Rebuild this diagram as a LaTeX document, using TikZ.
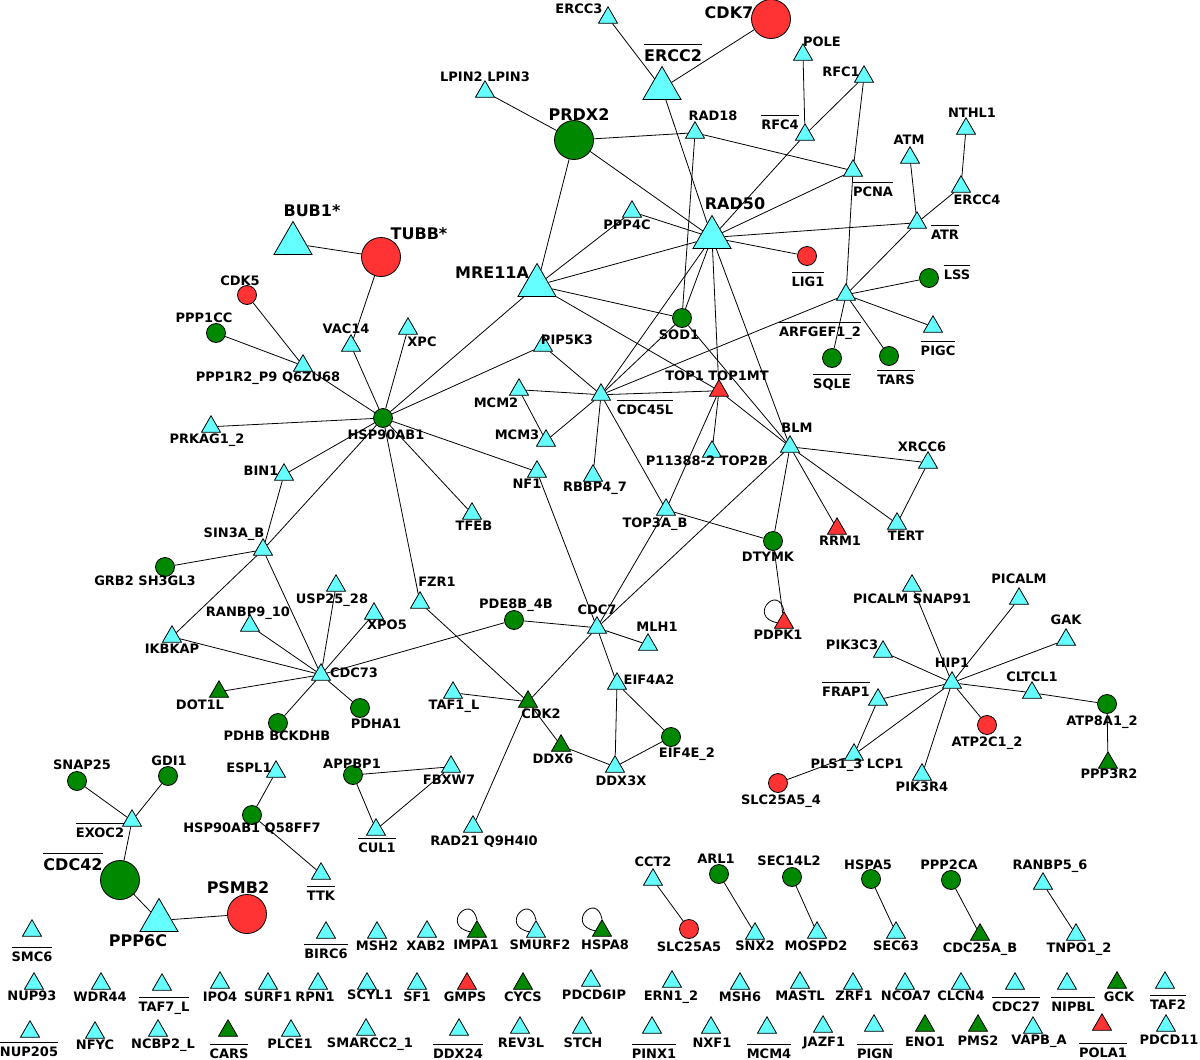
\documentclass[tikz,border=0pt]{standalone}
\usepackage{fontspec}
\setmainfont{DejaVu Sans}
\usetikzlibrary{shapes.geometric}
\definecolor{triCyan}{RGB}{102,255,255}
\definecolor{hitGreen}{RGB}{0,136,0}
\definecolor{hitRed}{RGB}{255,51,51}
% one gene: shape node plus its label
\newcommand{\addgene}[6][lbl]{\node[#2] (#3) at (#4) {};\node[#1] (#3L) at (#5) {#6};}
\newcommand{\olt}[1]{\vbox{\hrule height 0.9pt\kern 4pt\hbox{#1}}}
\newcommand{\bigolt}[1]{\vbox{\hrule height 0.9pt\kern 5pt\hbox{#1}}}

\begin{document}
\begin{tikzpicture}[
	x=1pt, y=-1pt,
	tri/.style={regular polygon, regular polygon sides=3, draw, line width=0.8pt, inner sep=0pt, minimum size=22pt, yshift=-2.75pt, fill=triCyan},
	bigtri/.style={regular polygon, regular polygon sides=3, draw, line width=0.8pt, inner sep=0pt, minimum size=44pt, yshift=-5.5pt, fill=triCyan},
	gtri/.style={tri, fill=hitGreen},
	rtri/.style={tri, fill=hitRed},
	dot/.style={circle, draw, line width=0.8pt, inner sep=0pt, minimum size=19pt, fill=hitGreen},
	rdot/.style={dot, fill=hitRed},
	bigdot/.style={dot, minimum size=39pt},
	bigrdot/.style={bigdot, fill=hitRed},
	lbl/.style={inner sep=0pt, font=\bfseries\fontsize{13}{15}\selectfont, text height=9.5pt, text depth=0pt},
	biglbl/.style={lbl, font=\bfseries\fontsize{16}{18}\selectfont, text height=11.7pt},
	link/.style={line width=0.8pt}
]
\useasboundingbox (0,0) rectangle (1200,1060);

% Repair cluster (top right)
\addgene{tri}{ercc3}{608,15}{579,9}{ERCC3}
\addgene[biglbl]{bigrdot}{cdk7}{771,19}{729,13}{CDK7}
\addgene[biglbl]{bigtri}{ercc2}{662,83}{673,56}{\bigolt{ERCC2}}
\addgene{tri}{lpin}{485,89}{485,77}{LPIN2 LPIN3}
\addgene[biglbl]{bigdot}{prdx2}{574,140}{579,115}{PRDX2}
\addgene{tri}{rad18}{695,130}{713,116}{RAD18}
\addgene{tri}{rfc4}{805,132}{780,125}{\olt{RFC4}}
\addgene{tri}{pole}{803,52}{822,42}{POLE}
\addgene{tri}{rfc1}{864,74}{841,72}{RFC1}
\addgene{tri}{pcna}{853,168}{873,192}{\olt{PCNA}}
\addgene{tri}{atm}{910,155}{909,140}{ATM}
\addgene{tri}{nthl1}{966,126}{972,113}{NTHL1}
\addgene{tri}{ercc4}{961,184}{977,200}{ERCC4}
\addgene{tri}{atr}{917,220}{945,235}{\olt{ATR}}
\addgene{rdot}{lig1}{807,256}{808,282}{\olt{LIG1}}
\addgene{dot}{lss}{929,278}{957,275}{\olt{LSS}}
\addgene{tri}{arfgef}{846,292}{820,332}{\olt{ARFGEF1\_2}}
\addgene{tri}{pigc}{933,324}{938,351}{\olt{PIGC}}
\addgene{dot}{sqle}{832,358}{832,384}{\olt{SQLE}}
\addgene{dot}{tars}{889,356}{896,380}{\olt{TARS}}
\addgene[biglbl]{bigtri}{rad50}{712,232}{735,204}{RAD50}
\addgene[biglbl]{bigtri}{mre11a}{537,280}{492,273}{MRE11A}
\addgene{tri}{ppp4c}{632,209}{627,225}{PPP4C}
\addgene{dot}{sod1}{682,318}{679,335}{SOD1}

% HSP90AB1 cluster (left)
\addgene{tri}{xpc}{408,326}{422,342}{XPC}
\addgene{tri}{pip5k3}{543,343}{567,340}{PIP5K3}
\addgene[biglbl]{bigrdot}{tubb}{381,257}{419,234}{TUBB*}
\addgene[biglbl]{bigtri}{bub1}{293,238}{312,211}{BUB1*}
\addgene{rdot}{cdk5}{247,295}{240,281}{CDK5}
\addgene{dot}{ppp1cc}{216,333}{204,318}{PPP1CC}
\addgene{tri}{vac14}{351,343}{346,329}{VAC14}
\addgene{tri}{ppp1r2}{303,363}{268,377}{PPP1R2\_P9 Q6ZU68}
\addgene{dot}{hsp90}{383,418}{386,435}{HSP90AB1}
\addgene{tri}{prkag}{211,424}{207,439}{PRKAG1\_2}
\addgene{tri}{bin1}{284,472}{261,471}{BIN1}
\addgene{tri}{sin3a}{263,547}{234,533}{SIN3A\_B}
\addgene{dot}{grb2}{165,567}{145,581}{GRB2 SH3GL3}
\addgene{tri}{ikbkap}{172,634}{172,649}{IKBKAP}
\addgene{tri}{ranbp9}{250,623}{248,612}{RANBP9\_10}
\addgene{tri}{usp25}{336,583}{332,599}{USP25\_28}
\addgene{tri}{xpo5}{374,611}{387,625}{XPO5}
\addgene{tri}{cdc73}{321,672}{354,673}{CDC73}
\addgene{gtri}{dot1l}{219,689}{200,705}{DOT1L}
\addgene{dot}{pdhb}{278,723}{277,736}{PDHB BCKDHB}
\addgene{dot}{pdha1}{360,708}{376,724}{PDHA1}
\addgene{tri}{fzr1}{420,600}{437,582}{FZR1}
\addgene{dot}{pde8b}{514,620}{516,604}{PDE8B\_4B}
\addgene{tri}{taf1l}{453,690}{454,705}{TAF1\_L}
\addgene{gtri}{cdk2}{528,699}{541,714}{CDK2}
\addgene{dot}{appbp1}{353,775}{352,764}{APPBP1}
\addgene{tri}{fbxw7}{451,764}{449,780}{FBXW7}
\addgene{tri}{espl1}{276,769}{249,768}{ESPL1}
\addgene{dot}{gdi1}{168,776}{169,761}{GDI1}

% CDC45L / BLM cluster (middle)
\addgene{tri}{mcm2}{519,387}{496,403}{MCM2}
\addgene{tri}{cdc45l}{601,392}{645,410}{\olt{CDC45L}}
\addgene{rtri}{top1}{719,388}{717,376}{TOP1 TOP1MT}
\addgene{tri}{mcm3}{546,438}{517,435}{MCM3}
\addgene{tri}{nf1}{537,469}{527,484}{NF1}
\addgene{tri}{rbbp4}{593,473}{595,487}{RBBP4\_7}
\addgene{tri}{top2b}{712,449}{707,461}{P11388-2 TOP2B}
\addgene{tri}{blm}{790,444}{797,428}{BLM}
\addgene{tri}{tfeb}{472,511}{474,526}{TFEB}
\addgene{tri}{top3a}{666,507}{655,523}{TOP3A\_B}
\addgene{dot}{dtymk}{773,541}{768,557}{DTYMK}
\addgene{rtri}{pdpk1}{784,620}{778,635}{PDPK1}
\addgene{tri}{cdc7}{597,625}{597,610}{CDC7}
\addgene{tri}{mlh1}{648,642}{657,627}{MLH1}
\addgene{tri}{eif4a2}{617,681}{649,680}{EIF4A2}
\addgene{tri}{xrcc6}{928,460}{922,447}{XRCC6}
\addgene{rtri}{rrm1}{837,526}{840,541}{RRM1}
\addgene{tri}{tert}{897,521}{906,536}{TERT}
\addgene{gtri}{ddx6}{561,743}{553,759}{DDX6}
\addgene{tri}{ddx3x}{615,764}{621,781}{DDX3X}
\addgene{dot}{eif4e}{671,737}{687,753}{EIF4E\_2}
\addgene{tri}{rad21}{473,824}{484,841}{RAD21 Q9H4I0}

% HIP1 cluster (right)
\addgene{tri}{snap91}{912,583}{912,599}{PICALM SNAP91}
\addgene{tri}{picalm}{1019,596}{1019,579}{PICALM}
\addgene{tri}{gak}{1066,637}{1066,620}{GAK}
\addgene{tri}{pik3c3}{883,649}{852,645}{PIK3C3}
\addgene{tri}{hip1}{952,680}{952,663}{HIP1}
\addgene{tri}{cltcl1}{1032,690}{1032,677}{CLTCL1}
\addgene{tri}{frap1}{878,697}{846,692}{\olt{FRAP1}}
\addgene{dot}{atp8a1}{1107,704}{1102,721}{ATP8A1\_2}
\addgene{gtri}{ppp3r2}{1108,760}{1109,774}{PPP3R2}
\addgene{rdot}{atp2c1}{987,725}{987,742}{ATP2C1\_2}
\addgene{tri}{pls1}{854,752}{857,764}{PLS1\_3 LCP1}
\addgene{tri}{pik3r4}{922,772}{922,787}{PIK3R4}
\addgene{rdot}{slc4}{778,783}{781,800}{SLC25A5\_4}

% CDC42 cluster (bottom left)
\addgene{dot}{snap25}{77,781}{82,765}{SNAP25}
\addgene{tri}{exoc2}{132,818}{100,833}{\olt{EXOC2}}
\addgene[biglbl]{bigdot}{cdc42}{120,880}{73,865}{\bigolt{CDC42}}
\addgene[biglbl]{bigtri}{ppp6c}{159,915}{138,941}{PPP6C}
\addgene[biglbl]{bigrdot}{psmb2}{247,914}{238,888}{PSMB2}
\addgene{dot}{q58ff7}{252,815}{252,828}{HSP90AB1 Q58FF7}
\addgene{tri}{ttk}{321,871}{321,896}{\olt{TTK}}
\addgene{tri}{cul1}{376,827}{377,848}{\olt{CUL1}}

% Pairs
\addgene{tri}{cct2}{653,877}{653,862}{CCT2}
\addgene{rdot}{slc25a5}{689,929}{689,947}{SLC25A5}
\addgene{dot}{arl1}{719,874}{716,859}{ARL1}
\addgene{tri}{snx2}{755,931}{755,946}{SNX2}
\addgene{dot}{sec14l2}{792,877}{789,861}{SEC14L2}
\addgene{tri}{mospd2}{817,930}{816,946}{MOSPD2}
\addgene{dot}{hspa5}{871,879}{868,865}{HSPA5}
\addgene{tri}{sec63}{896,930}{896,946}{SEC63}
\addgene{dot}{ppp2ca}{951,880}{949,865}{PPP2CA}
\addgene{gtri}{cdc25a}{980,932}{980,948}{CDC25A\_B}
\addgene{tri}{ranbp5}{1043,881}{1050,865}{RANBP5\_6}
\addgene{tri}{tnpo1}{1076,932}{1079,948}{TNPO1\_2}

% Singletons, row 1
\addgene{tri}{smc6}{32,928}{32,957}{\olt{SMC6}}
\addgene{tri}{birc6}{326,930}{326,954}{\olt{BIRC6}}
\addgene{tri}{msh2}{377,930}{377,946}{MSH2}
\addgene{tri}{xab2}{427,929}{426,946}{XAB2}
\addgene{gtri}{impa1}{477,929}{476,945}{IMPA1}
\addgene{tri}{smurf2}{536,929}{540,945}{SMURF2}
\addgene{gtri}{hspa8}{602,928}{605,945}{HSPA8}

% Singletons, row 2
\addgene{tri}{nup93}{34,981}{32,996}{NUP93}
\addgene{tri}{wdr44}{101,981}{100,997}{WDR44}
\addgene{tri}{taf7l}{162,982}{164,1007}{\olt{TAF7\_L}}
\addgene{tri}{ipo4}{220,980}{220,997}{IPO4}
\addgene{tri}{surf1}{268,981}{268,997}{SURF1}
\addgene{tri}{rpn1}{318,981}{315,997}{RPN1}
\addgene{tri}{scyl1}{367,981}{370,995}{SCYL1}
\addgene{tri}{sf1}{417,981}{417,997}{SF1}
\addgene{rtri}{gmps}{467,981}{465,997}{GMPS}
\addgene{gtri}{cycs}{523,981}{523,997}{CYCS}
\addgene{tri}{pdcd6ip}{591,978}{594,995}{PDCD6IP}
\addgene{tri}{ern1}{672,979}{671,996}{ERN1\_2}
\addgene{tri}{msh6}{740,981}{740,997}{MSH6}
\addgene{tri}{mastl}{800,980}{800,996}{MASTL}
\addgene{tri}{zrf1}{853,981}{854,996}{ZRF1}
\addgene{tri}{ncoa7}{905,981}{906,996}{NCOA7}
\addgene{tri}{clcn4}{961,981}{961,996}{CLCN4}
\addgene{tri}{cdc27}{1015,981}{1016,1007}{\olt{CDC27}}
\addgene{tri}{nipbl}{1067,981}{1073,1007}{\olt{NIPBL}}
\addgene{gtri}{gck}{1117,980}{1119,997}{GCK}
\addgene{tri}{taf2}{1165,980}{1168,1005}{\olt{TAF2}}

% Singletons, row 3
\addgene{tri}{nup205}{30,1029}{29,1052}{\olt{NUP205}}
\addgene{tri}{nfyc}{95,1030}{95,1045}{NFYC}
\addgene{tri}{ncbp2}{158,1028}{163,1044}{NCBP2\_L}
\addgene{gtri}{cars}{228,1028}{229,1054}{\olt{CARS}}
\addgene{tri}{plce1}{291,1028}{290,1044}{PLCE1}
\addgene{tri}{smarcc2}{366,1027}{370,1043}{SMARCC2\_1}
\addgene{tri}{ddx24}{459,1027}{458,1054}{\olt{DDX24}}
\addgene{tri}{rev3l}{520,1025}{521,1043}{REV3L}
\addgene{tri}{stch}{582,1025}{583,1043}{STCH}
\addgene{tri}{pinx1}{652,1025}{654,1054}{\olt{PINX1}}
\addgene{tri}{nxf1}{711,1025}{712,1043}{NXF1}
\addgene{tri}{mcm4}{767,1025}{769,1054}{\olt{MCM4}}
\addgene{tri}{jazf1}{823,1024}{824,1042}{JAZF1}
\addgene{tri}{pign}{874,1023}{875,1054}{\olt{PIGN}}
\addgene{gtri}{eno1}{925,1023}{925,1042}{ENO1}
\addgene{gtri}{pms2}{978,1023}{978,1041}{PMS2}
\addgene{tri}{vapb}{1033,1025}{1039,1040}{VAPB\_A}
\addgene{rtri}{pola1}{1102,1022}{1103,1053}{\olt{POLA1}}
\addgene{tri}{pdcd11}{1166,1023}{1169,1040}{PDCD11}

% Connectors
\draw[link] (ercc3) -- (ercc2) (cdk7) -- (ercc2) (ercc2) -- (rad50);
\draw[link] (lpin) -- (prdx2) (prdx2) -- (rad18) (prdx2) -- (rad50) (prdx2) -- (mre11a);
\draw[link] (rad18) -- (sod1) (rad18) -- (pcna);
\draw[link] (pole) -- (rfc4) (rfc4) -- (rfc1) (rfc1) -- (pcna) (rfc4) -- (rad50);
\draw[link] (pcna) -- (rad50) (pcna) -- (arfgef);
\draw[link] (atm) -- (atr) (nthl1) -- (ercc4) (ercc4) -- (atr) (atr) -- (rad50) (atr) -- (arfgef);
\draw[link] (arfgef) -- (lss) (arfgef) -- (pigc) (arfgef) -- (sqle) (arfgef) -- (tars) (arfgef) -- (cdc45l);
\draw[link] (rad50) -- (lig1) (rad50) -- (ppp4c) (rad50) -- (mre11a) (rad50) -- (sod1);
\draw[link] (rad50) -- (cdc45l) (rad50) -- (top1) (rad50) -- (blm);
\draw[link] (mre11a) -- (ppp4c) (mre11a) -- (sod1) (mre11a) -- (top1) (mre11a) -- (hsp90);
\draw[link] (top1) -- (blm) (top1) -- (top2b) (top1) -- (top3a) (top1) -- (cdc45l);
\draw[link] (sod1) -- (cdc45l) (sod1) -- (blm);
\draw[link] (cdc45l) -- (pip5k3) (cdc45l) -- (mcm2) (cdc45l) -- (mcm3) (cdc45l) -- (rbbp4) (cdc45l) -- (top3a);
\draw[link] (mcm2) -- (mcm3);
\draw[link] (blm) -- (xrcc6) (blm) -- (tert) (blm) -- (rrm1) (blm) -- (dtymk) (blm) -- (cdc7);
\draw[link] (xrcc6) -- (tert) (top3a) -- (dtymk) (top3a) -- (cdc7) (dtymk) -- (pdpk1);
\draw[link] (pip5k3) -- (hsp90) (hsp90) -- (vac14) (hsp90) -- (xpc) (hsp90) -- (ppp1r2) (hsp90) -- (prkag);
\draw[link] (hsp90) -- (bin1) (hsp90) -- (sin3a) (hsp90) -- (fzr1) (hsp90) -- (tfeb) (hsp90) -- (nf1);
\draw[link] (vac14) -- (tubb) (tubb) -- (bub1) (cdk5) -- (ppp1r2) (ppp1cc) -- (ppp1r2);
\draw[link] (bin1) -- (sin3a) (sin3a) -- (grb2) (sin3a) -- (ikbkap) (sin3a) -- (cdc73);
\draw[link] (ikbkap) -- (cdc73) (ranbp9) -- (cdc73) (usp25) -- (cdc73) (xpo5) -- (cdc73);
\draw[link] (cdc73) -- (pde8b) (cdc73) -- (dot1l) (cdc73) -- (pdhb) (cdc73) -- (pdha1);
\draw[link] (fzr1) -- (cdk2) (pde8b) -- (cdc7) (nf1) -- (cdc7);
\draw[link] (cdc7) -- (mlh1) (cdc7) -- (eif4a2) (cdc7) -- (cdk2);
\draw[link] (taf1l) -- (cdk2) (cdk2) -- (ddx6) (cdk2) -- (rad21);
\draw[link] (ddx6) -- (ddx3x) (ddx3x) -- (eif4a2) (ddx3x) -- (eif4e) (eif4a2) -- (eif4e);
\draw[link] (appbp1) -- (fbxw7) (appbp1) -- (cul1) (fbxw7) -- (cul1);
\draw[link] (espl1) -- (q58ff7) (q58ff7) -- (ttk);
\draw[link] (snap25) -- (exoc2) (gdi1) -- (exoc2) (exoc2) -- (cdc42) (cdc42) -- (ppp6c) (ppp6c) -- (psmb2);
\draw[link] (hip1) -- (snap91) (hip1) -- (picalm) (hip1) -- (gak) (hip1) -- (pik3c3) (hip1) -- (cltcl1);
\draw[link] (hip1) -- (frap1) (hip1) -- (pls1) (hip1) -- (pik3r4) (hip1) -- (atp2c1);
\draw[link] (cltcl1) -- (atp8a1) (atp8a1) -- (ppp3r2) (frap1) -- (pls1) (pls1) -- (slc4);
\draw[link] (cct2) -- (slc25a5) (arl1) -- (snx2) (sec14l2) -- (mospd2);
\draw[link] (hspa5) -- (sec63) (ppp2ca) -- (cdc25a) (ranbp5) -- (tnpo1);

% Self loops
\draw[link] (pdpk1.north) .. controls +(-6,-28) and +(-30,-6) .. (pdpk1.west);
\draw[link] (impa1.north) .. controls +(-6,-28) and +(-30,-6) .. (impa1.west);
\draw[link] (smurf2.north) .. controls +(-6,-28) and +(-30,-6) .. (smurf2.west);
\draw[link] (hspa8.north) .. controls +(-6,-28) and +(-30,-6) .. (hspa8.west);

\end{tikzpicture}
\end{document}
